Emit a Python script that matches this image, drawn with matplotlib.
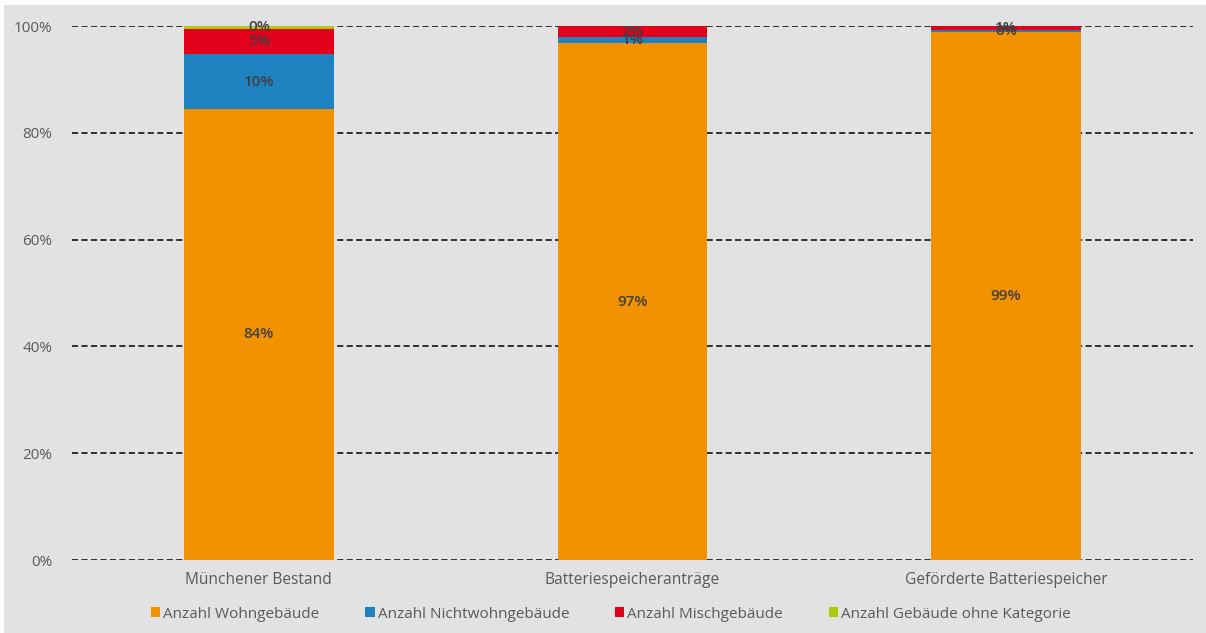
import matplotlib
matplotlib.use("Agg")
import matplotlib.pyplot as plt
from matplotlib.patches import Rectangle
import numpy as np

categories = ["Münchener Bestand", "Batteriespeicheranträge", "Geförderte Batteriespeicher"]
series_names = ["Anzahl Wohngebäude", "Anzahl Nichtwohngebäude", "Anzahl Mischgebäude",
                "Anzahl Gebäude ohne Kategorie"]
wohn = [84.5, 96.8, 98.9]
nichtwohn = [10.2, 1.1, 0.4]
misch = [4.8, 2.1, 0.7]
ohne = [0.5, 0.0, 0.0]
labels_wohn = ["84%", "97%", "99%"]
labels_nichtwohn = ["10%", "1%", "0%"]
labels_misch = ["5%", "2%", "1%"]
labels_ohne = ["0%", None, None]
colors = ["#F39200", "#1F82C0", "#E2001A", "#AFCA0B"]
yticks = [0, 20, 40, 60, 80, 100]

plt.rcParams['font.family'] = ['Open Sans', 'DejaVu Sans']

fig = plt.figure(figsize=(12.06, 6.33), dpi=100)
fig.patch.set_facecolor("white")
bg = "#E1E2E1"
fig.patches.append(Rectangle((4/1206, 0), 1 - 4/1206, 1 - 5/633, transform=fig.transFigure,
                             facecolor=bg, edgecolor="none", zorder=-10))

ax = fig.add_axes([72/1206, 1 - 560/633, 1121/1206, 534/633])
ax.set_facecolor(bg)
ax.patch.set_alpha(0)

x = np.arange(len(categories))
bottom = np.zeros(len(categories))
all_series = [wohn, nichtwohn, misch, ohne]
all_labels = [labels_wohn, labels_nichtwohn, labels_misch, labels_ohne]
for vals, labs, col, name in zip(all_series, all_labels, colors, series_names):
    vals = np.array(vals)
    ax.bar(x, vals, width=0.4, bottom=bottom, color=col, label=name, zorder=3)
    for i, (v, lab) in enumerate(zip(vals, labs)):
        if lab is not None:
            ax.text(x[i], bottom[i] + v / 2, lab, ha="center", va="center",
                    fontsize=11, color="#404040", fontweight="semibold", zorder=5)
    bottom += vals

ax.set_xlim(-0.5, 2.5)
ax.set_ylim(0, 100)
ax.set_yticks(yticks)
ax.set_yticklabels([f"{t}%" for t in yticks], fontsize=11, color="#595959")
ax.yaxis.grid(True, linestyle=(0, (4, 2.2)), color="black", linewidth=1.1, zorder=0)
ax.set_axisbelow(True)
ax.set_xticks(x)
ax.set_xticklabels(categories, fontsize=11.2, color="#595959")
ax.tick_params(axis="both", length=0)
ax.tick_params(axis="y", pad=14)
ax.tick_params(axis="x", pad=9)
for s in ax.spines.values():
    s.set_visible(False)

leg = fig.legend(loc="center", bbox_to_anchor=(611/1206, 1 - 614/633), ncol=4, frameon=False,
                 fontsize=11, handlelength=0.6, handleheight=0.6, handletextpad=0.2,
                 columnspacing=3.0)
for t in leg.get_texts():
    t.set_color("#595959")

fig.savefig("out.png", dpi=100, facecolor=fig.get_facecolor())
